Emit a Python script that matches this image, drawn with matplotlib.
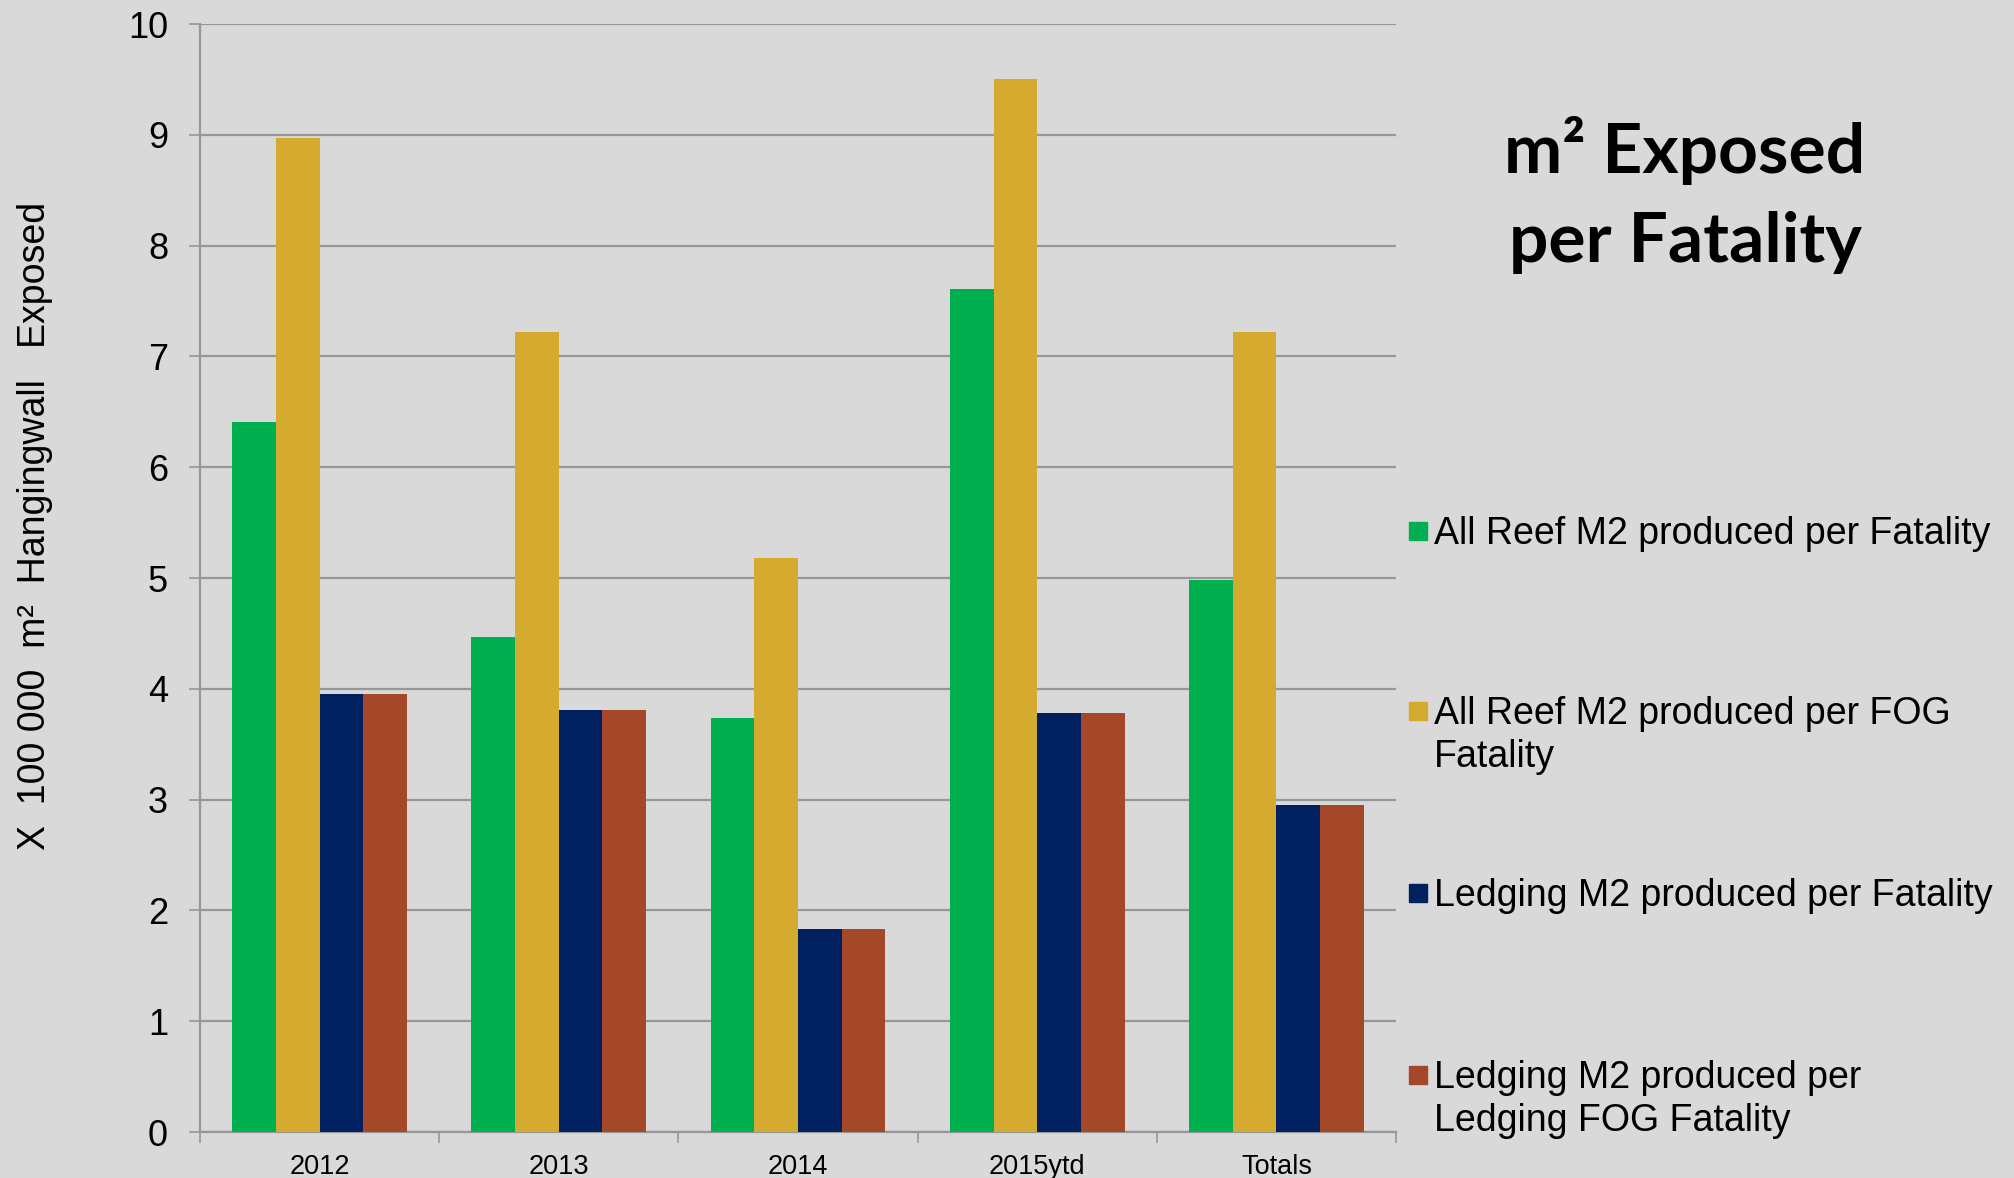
import matplotlib
matplotlib.use("Agg")
import matplotlib.pyplot as plt
from matplotlib.patches import Rectangle
import numpy as np

categories = ["2012", "2013", "2014", "2015ytd", "Totals"]
all_reef_fatality = [6.41, 4.47, 3.74, 7.61, 4.98]
all_reef_fog = [8.97, 7.22, 5.18, 9.50, 7.22]
ledging_fatality = [3.95, 3.81, 1.83, 3.78, 2.95]
ledging_fog = [3.95, 3.81, 1.83, 3.78, 2.95]
series_labels = [
    "All Reef M2 produced per Fatality",
    "All Reef M2 produced per FOG\nFatality",
    "Ledging M2 produced per Fatality",
    "Ledging M2 produced per\nLedging FOG Fatality",
]
colors = ["#00B050", "#D4AA2F", "#002060", "#A5482A"]
y_ticks = list(range(0, 11))

BG = "#D9D9D9"
GRID = "#979797"

fig = plt.figure(figsize=(20.15, 11.78), dpi=100, facecolor=BG)
ax = fig.add_axes([200/2015, 1-1132/1178, 1196/2015, 1108/1178])
ax.set_facecolor(BG)

series = [all_reef_fatality, all_reef_fog, ledging_fatality, ledging_fog]
x = np.arange(len(categories))
w = 0.1826
for i, (vals, c) in enumerate(zip(series, colors)):
    ax.bar(x + (i - 1.5) * w, vals, width=w, color=c, edgecolor="none", zorder=3)

ax.set_xlim(-0.5, len(categories) - 0.5)
ax.set_ylim(0, 10)
ax.set_yticks(y_ticks)
ax.set_yticklabels([str(t) for t in y_ticks], fontsize=26, family="Liberation Sans")
ax.yaxis.grid(True, color=GRID, linewidth=1.6, zorder=0)
ax.set_axisbelow(True)

ax.set_xticks(x)
ax.set_xticklabels(categories, fontsize=19.5, family=["Liberation Sans Narrow", "Liberation Sans"])
ax.set_xticks(np.arange(-0.5, len(categories)), minor=True)
ax.tick_params(axis="x", which="major", length=0, pad=16)
ax.tick_params(axis="x", which="minor", length=8, color=GRID, width=1.2)
ax.tick_params(axis="y", which="major", length=8, color=GRID, width=1.2, pad=15)

for s in ["top", "right"]:
    ax.spines[s].set_visible(False)
for s in ["left", "bottom"]:
    ax.spines[s].set_color(GRID)
    ax.spines[s].set_linewidth(1.6)

# y-axis title (placed like the reference, above the axes centre)
fig.text(35/2015, 1-526/1178, "X  100 000  m\u00b2  Hangingwall   Exposed", rotation=90,
         ha="center", va="center", fontsize=27, family="Liberation Sans")

# title
fig.text(1685/2015, 1-195/1178, "m\u00b2 Exposed\nper Fatality", ha="center", va="center",
         fontsize=50, fontweight="bold", family="Lato", linespacing=1.5)

# legend (manual)
marker_y = [531, 711, 893, 1075]
for lab, c, my in zip(series_labels, colors, marker_y):
    fig.patches.append(Rectangle((1409/2015, 1-(my+9)/1178), 18/2015, 18/1178,
                                 transform=fig.transFigure, color=c, figure=fig))
    fig.text(1434/2015, 1-(my-15)/1178, lab, ha="left", va="top", fontsize=27,
             family="Liberation Sans", linespacing=1.25)

fig.savefig("out.png", dpi=100, facecolor=BG)
